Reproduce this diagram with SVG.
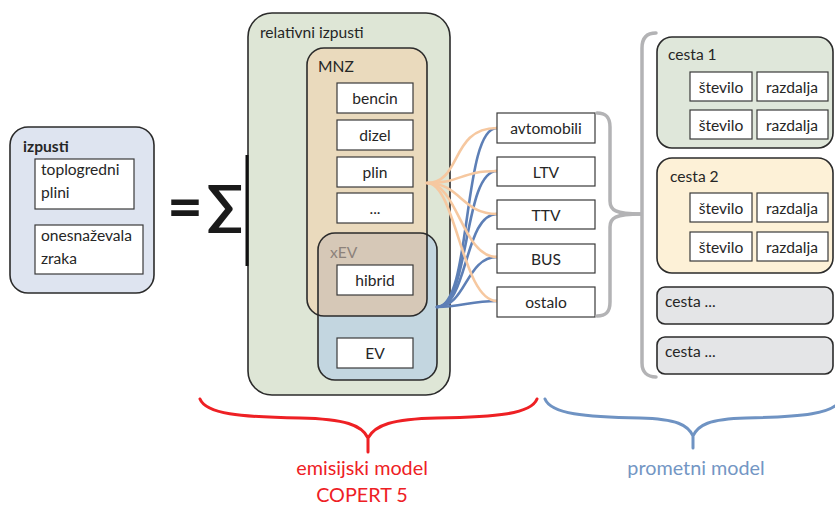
<svg xmlns="http://www.w3.org/2000/svg" width="835" height="505" viewBox="0 0 835 505">
  <style>
    text { font-family: Lato, "Open Sans", "Liberation Sans", sans-serif; fill: #262626; }
    .lbl { font-size: 15.6px; }
    .ctr { text-anchor: middle; }
    .panel { stroke: #2b2b2b; stroke-width: 1.6; }
    .cell { fill: #ffffff; stroke: #3a3a3a; stroke-width: 1.2; }
    .orange { fill: none; stroke: #f6c8a0; stroke-width: 2.6; stroke-linecap: round; }
    .blue { fill: none; stroke: #5d7fb6; stroke-width: 2.6; stroke-linecap: round; }
    .brace { fill: none; stroke: #b3b3b5; stroke-width: 3.5; stroke-linecap: round; }
  </style>
  <defs>
    <clipPath id="mnzClip">
      <rect x="307" y="48" width="120" height="268" rx="17"/>
    </clipPath>
  </defs>

  <rect width="835" height="505" fill="#ffffff"/>

  <!-- total emissions -->
  <g id="izpusti">
    <rect class="panel" x="10" y="127" width="144" height="166" rx="18" fill="#dee4f0"/>
    <text x="23" y="152" class="lbl" font-weight="bold">izpusti</text>
    <rect class="cell" x="35" y="159" width="99" height="50"/>
    <text x="41" y="175" class="lbl">toplogredni</text>
    <text x="41" y="198" class="lbl">plini</text>
    <rect class="cell" x="35" y="225" width="108" height="49"/>
    <text x="41" y="241" class="lbl">onesnaževala</text>
    <text x="41" y="264" class="lbl">zraka</text>
  </g>

  <!-- equals-sum operator -->
  <g id="sum">
    <text x="185" y="228" class="ctr" font-size="62" font-weight="bold" style="fill:#1a1a1a" font-family="DejaVu Sans, sans-serif">=</text>
    <text x="225" y="224" class="ctr" font-size="54" font-weight="bold" style="fill:#1a1a1a" font-family="DejaVu Sans, sans-serif">∑</text>
  </g>

  <!-- emission factors -->
  <g id="relativni">
    <rect class="panel" x="248" y="13" width="202" height="382" rx="24" fill="#dee6d6"/>
    <line x1="247" y1="155" x2="247" y2="266" stroke="#111" stroke-width="3"/>
    <text x="260" y="38" class="lbl">relativni izpusti</text>
  </g>

  <g id="xEV">
    <rect x="318" y="233" width="119" height="147" rx="17" fill="#c3d6e0"/>
  </g>

  <g id="MNZ">
    <rect x="307" y="48" width="120" height="268" rx="17" fill="#eadabd"/>
    <rect x="318" y="233" width="119" height="147" rx="17" fill="#d6c8b7" clip-path="url(#mnzClip)"/>
    <rect x="307" y="48" width="120" height="268" rx="17" fill="none" stroke="#2b2b2b" stroke-width="1.6"/>
    <rect x="318" y="233" width="119" height="147" rx="17" fill="none" stroke="#2b2b2b" stroke-width="1.6"/>
    <text x="318" y="72" class="lbl">MNZ</text>
    <text x="330" y="258" class="lbl" style="fill:#8c827b">xEV</text>
  </g>

  <g id="bencin"><rect class="cell" x="337" y="83" width="76" height="30"/><text x="375" y="104" class="lbl ctr">bencin</text></g>
  <g id="dizel"><rect class="cell" x="337" y="120" width="76" height="30"/><text x="375" y="141" class="lbl ctr">dizel</text></g>
  <g id="plin"><rect class="cell" x="337" y="157" width="76" height="30"/><text x="375" y="178" class="lbl ctr">plin</text></g>
  <g id="ostalo-gorivo"><rect class="cell" x="337" y="193" width="76" height="30"/><text x="375" y="214" class="lbl ctr">...</text></g>
  <g id="hibrid"><rect class="cell" x="337" y="265" width="76" height="30"/><text x="375" y="286" class="lbl ctr">hibrid</text></g>
  <g id="EV"><rect class="cell" x="337" y="338" width="76" height="30"/><text x="375" y="359" class="lbl ctr">EV</text></g>

  <!-- fuel and powertrain links to vehicle categories -->
  <g id="connectors">
    <path class="blue" d="M437,307 C472,307 462,128 497,128"/>
    <path class="blue" d="M437,307 C470,307 463,171 497,171"/>
    <path class="blue" d="M437,307 C468,307 464,214 497,214"/>
    <path class="blue" d="M437,307 C466,307 466,257 497,257"/>
    <path class="blue" d="M437,307 C462,307 470,301 497,301"/>
    <path class="orange" d="M427,183 C462,183 450,128 497,128"/>
    <path class="orange" d="M427,183 C462,183 460,171 497,171"/>
    <path class="orange" d="M427,183 C460,183 462,214 497,214"/>
    <path class="orange" d="M427,183 C458,183 462,257 497,257"/>
    <path class="orange" d="M427,183 C456,183 462,301 497,301"/>
  </g>

  <!-- vehicle categories -->
  <g id="avtomobili"><rect class="cell" x="497" y="113" width="98" height="30"/><text x="546" y="134" class="lbl ctr">avtomobili</text></g>
  <g id="LTV"><rect class="cell" x="497" y="157" width="98" height="29"/><text x="546" y="178" class="lbl ctr">LTV</text></g>
  <g id="TTV"><rect class="cell" x="497" y="200" width="98" height="29"/><text x="546" y="221" class="lbl ctr">TTV</text></g>
  <g id="BUS"><rect class="cell" x="497" y="244" width="98" height="29"/><text x="546" y="265" class="lbl ctr">BUS</text></g>
  <g id="ostalo"><rect class="cell" x="497" y="287" width="98" height="30"/><text x="546" y="308" class="lbl ctr">ostalo</text></g>

  <!-- braces grouping vehicles and roads -->
  <g id="braces">
    <path class="brace" d="M597,113 C606,113 610,117 610,127 L610,201 C610,210 615,214 641,214"/>
    <path class="brace" d="M597,316 C606,316 610,312 610,302 L610,227 C610,218 615,214 641,214"/>
    <path class="brace" d="M656,33 C647,33 642,38 642,48 L642,363 C642,372 647,377 656,377"/>
  </g>

  <!-- road segments -->
  <g id="cesta1">
    <rect class="panel" x="657" y="37" width="176" height="111" rx="15" fill="#dfe7da"/>
    <text x="668" y="60" class="lbl">cesta 1</text>
    <rect class="cell" x="690" y="72" width="62" height="29"/><text x="721" y="93" class="lbl ctr">število</text>
    <rect class="cell" x="757" y="72" width="71" height="29"/><text x="792" y="93" class="lbl ctr">razdalja</text>
    <rect class="cell" x="690" y="110" width="62" height="29"/><text x="721" y="131" class="lbl ctr">število</text>
    <rect class="cell" x="757" y="110" width="71" height="29"/><text x="792" y="131" class="lbl ctr">razdalja</text>
  </g>
  <g id="cesta2">
    <rect class="panel" x="657" y="158" width="176" height="115" rx="15" fill="#fdf1d7"/>
    <text x="670" y="182" class="lbl">cesta 2</text>
    <rect class="cell" x="690" y="193" width="62" height="29"/><text x="721" y="214" class="lbl ctr">število</text>
    <rect class="cell" x="757" y="193" width="71" height="29"/><text x="792" y="214" class="lbl ctr">razdalja</text>
    <rect class="cell" x="690" y="232" width="62" height="29"/><text x="721" y="253" class="lbl ctr">število</text>
    <rect class="cell" x="757" y="232" width="71" height="29"/><text x="792" y="253" class="lbl ctr">razdalja</text>
  </g>
  <g id="cesta3">
    <rect class="panel" x="657" y="287" width="176" height="37" rx="8" fill="#e4e5e7"/>
    <text x="665" y="307" class="lbl">cesta ...</text>
  </g>
  <g id="cesta4">
    <rect class="panel" x="657" y="337" width="176" height="37" rx="8" fill="#e4e5e7"/>
    <text x="665" y="357" class="lbl">cesta ...</text>
  </g>

  <!-- model scopes -->
  <g id="emisijski-model">
    <path d="M200,399 C206,414 240,417 300,418 C345,419 362,425 368,438 L368,452 M537,399 C531,414 497,417 437,418 C392,419 375,425 368,438" fill="none" stroke="#ee2024" stroke-width="3" stroke-linecap="round"/>
    <text x="362" y="475" font-size="19.8" class="ctr" style="fill:#ee2024">emisijski model</text>
    <text x="362" y="502" font-size="19.8" class="ctr" style="fill:#ee2024">COPERT 5</text>
  </g>
  <g id="prometni-model">
    <path d="M545,399 C551,414 585,417 640,418 C677,419 688,425 693,436 L693,448 M841,399 C835,414 801,417 746,418 C709,419 698,425 693,436" fill="none" stroke="#6f93c3" stroke-width="3" stroke-linecap="round"/>
    <text x="696" y="475" font-size="19.8" class="ctr" style="fill:#7396c4">prometni model</text>
  </g>
</svg>
